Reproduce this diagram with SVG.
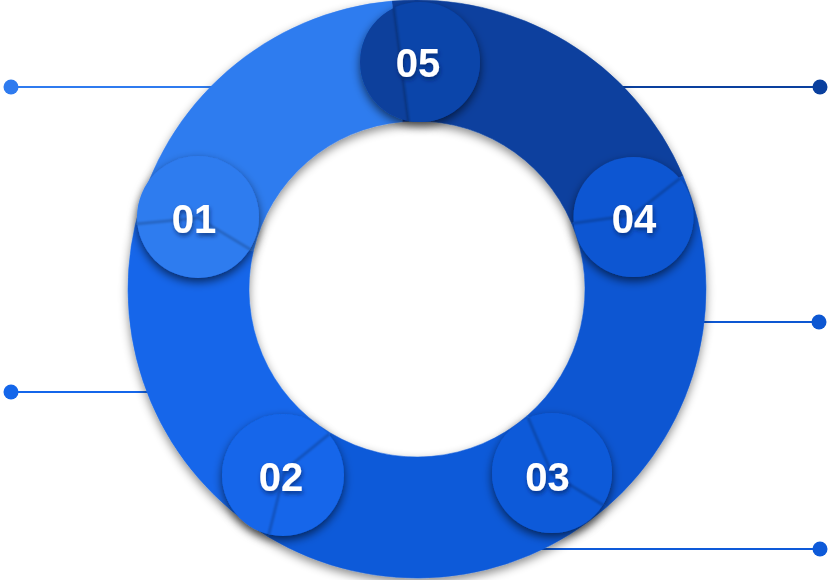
<svg xmlns="http://www.w3.org/2000/svg" width="831" height="580" viewBox="0 0 831 580">
<style>
.lbl{font-family:"Liberation Sans",Arial,sans-serif;font-weight:bold;font-size:40px;fill:#fff;text-anchor:middle;filter:url(#tsh)}
.div{fill:none;stroke:#000;stroke-opacity:.22;stroke-width:2.5;filter:url(#bl)}
.ln{stroke-width:2;fill:none}
</style>
<defs>
<filter id="sh" x="-20%" y="-20%" width="140%" height="140%"><feDropShadow dx="0" dy="4" stdDeviation="5" flood-color="#000" flood-opacity=".45"/></filter>
<filter id="csh" x="-30%" y="-30%" width="160%" height="160%"><feDropShadow dx="0" dy="4" stdDeviation="5" flood-color="#000" flood-opacity=".6"/></filter>
<filter id="tsh" x="-30%" y="-30%" width="160%" height="160%"><feDropShadow dx="1" dy="3" stdDeviation="2" flood-color="#001a55" flood-opacity=".6"/></filter>
<filter id="bl"><feGaussianBlur stdDeviation="1"/></filter>
<clipPath id="k01"><circle cx="198" cy="217" r="61"/></clipPath>
<clipPath id="k02"><circle cx="283" cy="475" r="61"/></clipPath>
<clipPath id="k03"><circle cx="552" cy="473" r="60"/></clipPath>
<clipPath id="k04"><circle cx="633.5" cy="217" r="60"/></clipPath>
<clipPath id="k05"><circle cx="420" cy="62" r="60"/></clipPath>
</defs>
<g id="connectors">
<line class="ln" x1="11" y1="87" x2="230" y2="87" stroke="#2f7bef"/>
<circle cx="11" cy="87" r="7.5" fill="#2f7bef"/>
<line class="ln" x1="11" y1="392" x2="170" y2="392" stroke="#1466ea"/>
<circle cx="11" cy="392" r="7.5" fill="#1466ea"/>
<line class="ln" x1="600" y1="87" x2="820" y2="87" stroke="#0a409e"/>
<circle cx="820" cy="87" r="7.5" fill="#0a409e"/>
<line class="ln" x1="690" y1="322" x2="819" y2="322" stroke="#0d57d2"/>
<circle cx="819" cy="322" r="7.5" fill="#0d57d2"/>
<line class="ln" x1="520" y1="549" x2="820" y2="549" stroke="#0e5ad9"/>
<circle cx="820" cy="549" r="7.5" fill="#0e5ad9"/>
</g>
<g id="ring" filter="url(#sh)">
<path id="segA" fill="#0a409e" stroke="#0a409e" stroke-width=".5" d="M391.81,1.10 A289,289 0 0 1 683.02,176.08 L571.64,223.36 A168,168 0 0 0 402.36,121.64 Z"/>
<path id="segB" fill="#0d57d2" stroke="#0d57d2" stroke-width=".5" d="M683.02,176.08 A289,289 0 0 1 606.60,507.11 L527.22,415.79 A168,168 0 0 0 571.64,223.36 Z"/>
<path id="segC" fill="#0e5ad9" stroke="#0e5ad9" stroke-width=".5" d="M606.60,507.11 A289,289 0 0 1 268.15,536.72 L330.47,433.00 A168,168 0 0 0 527.22,415.79 Z"/>
<path id="segD" fill="#1466ea" stroke="#1466ea" stroke-width=".5" d="M268.15,536.72 A289,289 0 0 1 135.41,223.99 L253.31,251.21 A168,168 0 0 0 330.47,433.00 Z"/>
<path id="segE" fill="#2f7bef" stroke="#2f7bef" stroke-width=".5" d="M135.41,223.99 A289,289 0 0 1 391.81,1.10 L402.36,121.64 A168,168 0 0 0 253.31,251.21 Z"/>
</g>
<g id="n01">
<circle cx="198" cy="217" r="61" fill="#2f7bef" filter="url(#csh)"/>
<g clip-path="url(#k01)"><polyline class="div" points="135.4,224 198,218 253.3,251.2"/></g>
<text class="lbl" x="194" y="233">01</text>
</g>
<g id="n02">
<circle cx="283" cy="475" r="61" fill="#1466ea" filter="url(#csh)"/>
<g clip-path="url(#k02)"><polyline class="div" points="330.5,433 285,470 268.2,536.7"/></g>
<text class="lbl" x="281" y="491">02</text>
</g>
<g id="n03">
<circle cx="552" cy="473" r="60" fill="#0e5ad9" filter="url(#csh)"/>
<g clip-path="url(#k03)"><polyline class="div" points="527.2,415.8 552,474 606.6,507.1"/></g>
<text class="lbl" x="547.5" y="491">03</text>
</g>
<g id="n04">
<circle cx="633.5" cy="217" r="60" fill="#0d57d2" filter="url(#csh)"/>
<g clip-path="url(#k04)"><polyline class="div" points="571.6,223.4 633,215 683,176.1"/></g>
<text class="lbl" x="634" y="233">04</text>
</g>
<g id="n05">
<circle cx="420" cy="62" r="60" fill="#0a3f9c" filter="url(#csh)"/>
<g clip-path="url(#k05)">
<polygon points="393,0 409,125 490,125 490,0" fill="#0b45aa"/>
<line class="div" x1="393" y1="0" x2="409" y2="125"/>
</g>
<text class="lbl" x="418" y="77">05</text>
</g>
</svg>
